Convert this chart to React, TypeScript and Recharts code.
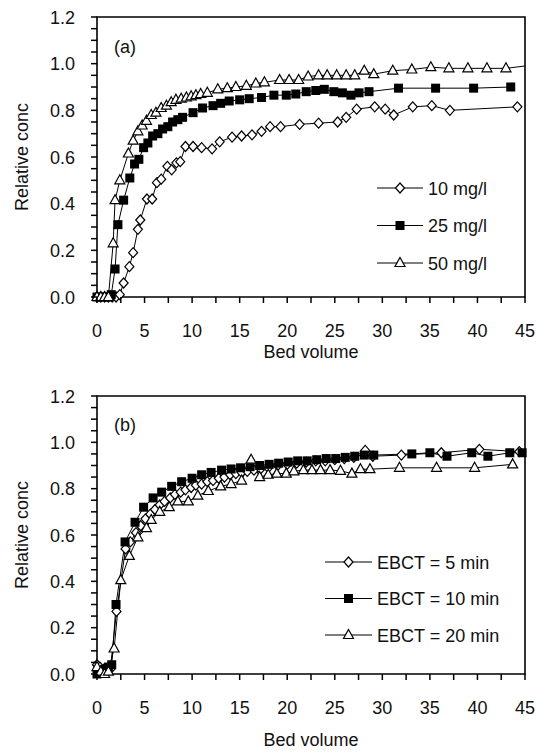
import { LineChart, Line, XAxis, YAxis, ReferenceArea, Legend } from "recharts"

const FONT = '"Liberation Sans", Arial, sans-serif'

// (a) influent concentration runs
const bv10 = [0, 0.4, 0.8, 1.2, 1.6, 2.0, 2.4, 2.8, 3.4, 3.8, 4.3, 4.55, 5.25, 5.8, 6.3, 6.75, 7.4, 7.85, 8.35, 8.75, 9.3, 10.1, 11.0, 12.1, 12.9, 14.2, 15.2, 16.3, 17.3, 18.2, 19.3, 21.3, 23.3, 25.3, 26.2, 27.3, 29.2, 30.3, 31.2, 33.2, 35.2, 37.1, 44.2]
const c10 = [0, 0, 0, 0, 0, 0, 0.01, 0.06, 0.13, 0.19, 0.29, 0.33, 0.42, 0.42, 0.49, 0.505, 0.56, 0.545, 0.575, 0.58, 0.645, 0.645, 0.64, 0.635, 0.665, 0.685, 0.69, 0.695, 0.71, 0.73, 0.73, 0.74, 0.745, 0.75, 0.77, 0.805, 0.815, 0.805, 0.78, 0.815, 0.82, 0.8, 0.815]

const bv25 = [0, 0.4, 0.8, 1.2, 1.5, 1.9, 2.2, 2.8, 3.45, 3.95, 4.4, 4.9, 5.35, 5.85, 6.4, 6.9, 7.45, 7.95, 8.5, 9.0, 10.1, 11.1, 12.2, 13.0, 13.9, 15.0, 16.0, 17.3, 18.6, 19.9, 20.9, 22.0, 23.0, 23.9, 24.9, 25.8, 26.7, 27.55, 28.6, 31.7, 35.6, 39.6, 43.5]
const c25 = [0, 0, 0, 0, 0.01, 0.12, 0.31, 0.415, 0.51, 0.57, 0.59, 0.64, 0.66, 0.69, 0.7, 0.72, 0.73, 0.75, 0.76, 0.77, 0.79, 0.81, 0.82, 0.83, 0.84, 0.845, 0.85, 0.855, 0.865, 0.865, 0.87, 0.88, 0.885, 0.89, 0.88, 0.875, 0.865, 0.875, 0.88, 0.895, 0.895, 0.895, 0.9]

const bv50 = [0, 0.4, 0.8, 1.2, 1.7, 1.9, 2.4, 3.3, 3.8, 4.3, 4.75, 5.2, 5.7, 6.2, 6.75, 7.3, 7.8, 8.3, 8.85, 9.4, 9.9, 10.4, 10.9, 11.6, 12.7, 13.7, 14.6, 15.7, 16.7, 17.6, 19.2, 20.2, 21.2, 22.2, 23.3, 24.2, 25.2, 26.2, 27.1, 28.1, 29.1, 31.1, 33.1, 35.1, 37.0, 39.0, 41.0, 43.0, 45]
const c50 = [0, 0, 0, 0, 0.23, 0.415, 0.5, 0.615, 0.67, 0.71, 0.735, 0.755, 0.78, 0.79, 0.81, 0.82, 0.835, 0.845, 0.85, 0.855, 0.86, 0.865, 0.87, 0.875, 0.89, 0.895, 0.9, 0.905, 0.915, 0.92, 0.93, 0.93, 0.93, 0.945, 0.95, 0.95, 0.95, 0.95, 0.95, 0.97, 0.955, 0.97, 0.975, 0.985, 0.98, 0.98, 0.98, 0.98, 0.99]

// (b) empty bed contact time runs
const bvE5 = [0, 0.3, 0.7, 1.0, 1.4, 2.05, 3.0, 3.5, 4.1, 4.6, 5.1, 5.6, 6.1, 6.6, 7.1, 7.7, 8.2, 8.8, 9.3, 9.9, 10.4, 11.0, 11.6, 12.2, 12.8, 13.4, 14.0, 14.6, 15.2, 15.8, 16.5, 17.2, 18.0, 19.0, 20.0, 21.0, 22.0, 23.0, 24.0, 25.0, 26.0, 27.0, 28.2, 29.0, 32.0, 36.2, 40.2, 44.4]
const cE5 = [0.04, 0.03, 0.02, 0.01, 0.02, 0.27, 0.54, 0.57, 0.61, 0.64, 0.67, 0.69, 0.71, 0.73, 0.745, 0.76, 0.775, 0.785, 0.795, 0.805, 0.815, 0.82, 0.83, 0.835, 0.845, 0.85, 0.86, 0.865, 0.87, 0.875, 0.88, 0.885, 0.89, 0.9, 0.905, 0.91, 0.915, 0.92, 0.92, 0.925, 0.93, 0.935, 0.965, 0.94, 0.945, 0.955, 0.97, 0.96]

const bvE10 = [0, 0.4, 0.8, 1.2, 1.55, 2.0, 2.95, 4.0, 4.9, 5.9, 6.8, 7.85, 8.9, 10.0, 11.0, 12.0, 13.1, 14.1, 15.1, 16.1, 17.1, 18.1, 19.1, 20.1, 21.1, 22.1, 23.1, 24.1, 25.1, 26.1, 27.1, 28.1, 29.1, 33.1, 35.0, 36.8, 39.4, 41.1, 43.4, 44.7]
const cE10 = [0, 0.01, 0.02, 0.03, 0.04, 0.3, 0.57, 0.655, 0.72, 0.76, 0.785, 0.81, 0.83, 0.845, 0.86, 0.87, 0.88, 0.885, 0.89, 0.895, 0.9, 0.905, 0.91, 0.915, 0.92, 0.92, 0.925, 0.93, 0.93, 0.935, 0.94, 0.945, 0.945, 0.95, 0.955, 0.94, 0.955, 0.94, 0.955, 0.955]

const bvE20 = [0, 0.4, 0.8, 1.2, 1.8, 2.5, 3.4, 4.3, 5.2, 5.7, 6.6, 7.6, 8.5, 9.6, 10.6, 11.7, 13.0, 14.1, 15.2, 16.2, 17.1, 18.0, 18.9, 19.9, 20.7, 21.7, 22.6, 23.5, 24.5, 25.6, 26.8, 27.7, 28.7, 31.8, 35.7, 39.7, 43.7]
const cE20 = [0.03, 0.01, 0, 0.01, 0.11, 0.405, 0.51, 0.59, 0.63, 0.665, 0.7, 0.72, 0.745, 0.745, 0.77, 0.79, 0.81, 0.82, 0.835, 0.925, 0.85, 0.86, 0.865, 0.865, 0.875, 0.88, 0.88, 0.88, 0.88, 0.877, 0.865, 0.884, 0.884, 0.89, 0.89, 0.89, 0.905]

const namesA = ["10 mg/l", "25 mg/l", "50 mg/l"]
const namesB = ["EBCT = 5 min", "EBCT = 10 min", "EBCT = 20 min"]

const xTicks = [0, 2.5, 5, 7.5, 10, 12.5, 15, 17.5, 20, 22.5, 25, 27.5, 30, 32.5, 35, 37.5, 40, 42.5, 45]
const yTicks = [0, 0.05, 0.1, 0.15, 0.2, 0.25, 0.3, 0.35, 0.4, 0.45, 0.5, 0.55, 0.6, 0.65, 0.7, 0.75, 0.8, 0.85, 0.9, 0.95, 1.0, 1.05, 1.1, 1.15, 1.2]

const rows = (bv: number[], c: number[]) => bv.map((v, i) => ({ bv: v, c: c[i] }))

type Shape = "diamond" | "square" | "triangle"
const shapes: Shape[] = ["diamond", "square", "triangle"]

function Marker({ shape, cx, cy }: { shape: Shape; cx: number; cy: number }) {
  if (shape === "square") {
    return <rect x={cx - 4.5} y={cy - 4.5} width={9} height={9} fill="#000" />
  }
  if (shape === "triangle") {
    return (
      <polygon
        points={`${cx},${cy - 5.5} ${cx + 5},${cy + 3.5} ${cx - 5},${cy + 3.5}`}
        fill="#fff"
        stroke="#000"
        strokeWidth={1.2}
      />
    )
  }
  return (
    <polygon
      points={`${cx},${cy - 5} ${cx + 4.5},${cy} ${cx},${cy + 5} ${cx - 4.5},${cy}`}
      fill="#fff"
      stroke="#000"
      strokeWidth={1.2}
    />
  )
}

const dotFor = (shape: Shape) => (props: any) => {
  const { cx, cy, index, payload } = props
  // last point of the 50 mg/l line runs to the frame without a marker
  if (payload.bv >= 45) return <g key={index} />
  return (
    <g key={index}>
      <Marker shape={shape} cx={cx} cy={cy} />
    </g>
  )
}

function XTick({ x, y, payload }: any) {
  const major = payload.value % 5 === 0
  return (
    <g>
      <line x1={x} x2={x} y1={y} y2={y + 6} stroke="#000" strokeWidth={1.5} />
      {major && (
        <text x={x} y={y + 40} textAnchor="middle" fontFamily={FONT} fontSize={18} fill="#111">
          {payload.value}
        </text>
      )}
    </g>
  )
}

function YTick({ x, y, payload }: any) {
  const major = Math.round(payload.value * 100) % 20 === 0
  return (
    <g>
      <line x1={x - 6} x2={x} y1={y} y2={y} stroke="#000" strokeWidth={1.5} />
      {major && (
        <text x={x - 22} y={y + 6.5} textAnchor="end" fontFamily={FONT} fontSize={18} fill="#111">
          {payload.value.toFixed(1)}
        </text>
      )}
    </g>
  )
}

const legendContent = (names: string[], lineW: number, textX: number, gap: number) => () => (
  <svg width={170} height={120} style={{ overflow: "visible" }}>
    {names.map((name, i) => {
      const cy = 18 + i * gap
      return (
        <g key={name}>
          <line x1={0} x2={lineW} y1={cy} y2={cy} stroke="#000" strokeWidth={1.2} />
          <Marker shape={shapes[i]} cx={lineW / 2} cy={cy} />
          <text x={textX} y={cy + 6.5} fontFamily={FONT} fontSize={18} fill="#111">
            {name}
          </text>
        </g>
      )
    })}
  </svg>
)

interface PanelProps {
  height: number
  top: number
  xAxisHeight: number
  titleOffset: number
  names: string[]
  series: { bv: number; c: number }[][]
  legendLeft: number
  legendTop: number
  legendLine: number
  legendText: number
  legendGap: number
}

function Panel(p: PanelProps) {
  return (
    <LineChart width={536} height={p.height} margin={{ top: p.top, right: 11, left: 0, bottom: 0 }}>
      <XAxis
        dataKey="bv"
        type="number"
        domain={[0, 45]}
        ticks={xTicks}
        interval={0}
        height={p.xAxisHeight}
        axisLine={false}
        tickLine={false}
        tickSize={0}
        tickMargin={0}
        tick={<XTick />}
        label={({ viewBox }: any) => (
          <text
            x={viewBox.x + viewBox.width / 2}
            y={viewBox.y + p.titleOffset}
            textAnchor="middle"
            fontFamily={FONT}
            fontSize={18}
            fill="#111"
          >
            Bed volume
          </text>
        )}
      />
      <YAxis
        type="number"
        domain={[0, 1.2]}
        ticks={yTicks}
        interval={0}
        width={97}
        axisLine={false}
        tickLine={false}
        tickSize={0}
        tickMargin={0}
        tick={<YTick />}
        label={({ viewBox }: any) => {
          const cy = viewBox.y + viewBox.height / 2
          return (
            <text
              x={22}
              y={cy}
              transform={`rotate(-90, 22, ${cy})`}
              textAnchor="middle"
              dominantBaseline="central"
              fontFamily={FONT}
              fontSize={18}
              fill="#111"
            >
              Relative conc
            </text>
          )
        }}
      />
      <ReferenceArea x1={0} x2={45} y1={0} y2={1.2} fill="none" stroke="#000" strokeWidth={1.6} />
      {p.series.map((data, i) => (
        <Line
          key={p.names[i]}
          name={p.names[i]}
          data={data}
          dataKey="c"
          type="linear"
          stroke="#000"
          strokeWidth={1}
          dot={dotFor(shapes[i])}
          activeDot={false}
          isAnimationActive={false}
        />
      ))}
      <Legend
        layout="vertical"
        align="center"
        verticalAlign="middle"
        wrapperStyle={{ left: p.legendLeft, top: p.legendTop, width: 170, height: 120 }}
        content={legendContent(p.names, p.legendLine, p.legendText, p.legendGap)}
      />
    </LineChart>
  )
}

const panelLabel = (text: string, top: number) => (
  <div
    style={{
      position: "absolute",
      left: 114,
      top,
      fontFamily: FONT,
      fontSize: 18,
      lineHeight: "20px",
      color: "#111",
    }}
  >
    {text}
  </div>
)

export default function App() {
  return (
    <div style={{ position: "absolute", left: 0, top: 0, width: 536, height: 752, background: "#fff" }}>
      <div style={{ position: "absolute", left: 0, top: 0 }}>
        <Panel
          height={370}
          top={17}
          xAxisHeight={73}
          titleOffset={61}
          names={namesA}
          series={[rows(bv10, c10), rows(bv25, c25), rows(bv50, c50)]}
          legendLeft={377}
          legendTop={170}
          legendLine={46}
          legendText={51}
          legendGap={37.5}
        />
      </div>
      <div style={{ position: "absolute", left: 0, top: 370 }}>
        <Panel
          height={382}
          top={26}
          xAxisHeight={78}
          titleOffset={72}
          names={namesB}
          series={[rows(bvE5, cE5), rows(bvE10, cE10), rows(bvE20, cE20)]}
          legendLeft={325}
          legendTop={174}
          legendLine={47}
          legendText={52}
          legendGap={36.5}
        />
      </div>
      {panelLabel("(a)", 37)}
      {panelLabel("(b)", 415)}
    </div>
  )
}
